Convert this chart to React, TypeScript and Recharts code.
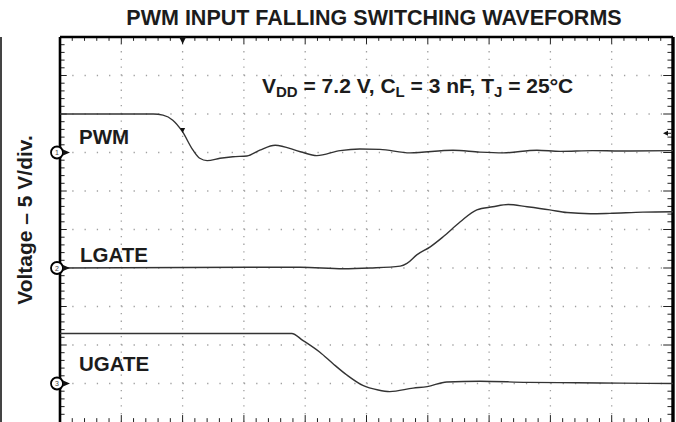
import { Line, LineChart, ReferenceDot, ReferenceLine, XAxis, YAxis } from 'recharts';

// scope screen: 10 time divisions across, 10 voltage divisions up (5 V/div)
const DIVS = [0, 1, 2, 3, 4, 5, 6, 7, 8, 9, 10];
const MINOR_STEP = 0.2;

// [time div, screen div]
const PWM_TRACE = [
  [0, 8.0], [1.52, 8.0], [1.68, 7.97], [1.84, 7.84], [1.99, 7.56], [2.17, 7.06], [2.28, 6.85],
  [2.4, 6.79], [2.61, 6.85], [2.82, 6.89], [3.05, 6.91], [3.26, 7.06], [3.51, 7.19], [3.92, 7.02],
  [4.19, 6.92], [4.57, 7.05], [4.89, 7.09], [5.22, 7.08], [5.71, 6.99], [6.41, 7.06], [6.85, 7.01],
  [7.23, 6.99], [7.78, 7.06], [8.16, 7.03], [8.69, 7.05], [9.14, 7.04], [10, 7.05],
];
const LGATE_TRACE = [
  [0, 4.0], [3.92, 4.02], [4.62, 3.98], [5.06, 4.0], [5.55, 4.05], [5.66, 4.12], [5.82, 4.34],
  [6.04, 4.55], [6.25, 4.81], [6.53, 5.2], [6.8, 5.51], [7.06, 5.59], [7.31, 5.65], [7.62, 5.59],
  [7.99, 5.51], [8.27, 5.44], [8.65, 5.41], [8.97, 5.42], [9.51, 5.45], [10, 5.46],
];
const UGATE_TRACE = [
  [0, 2.3], [3.78, 2.3], [3.96, 2.12], [4.24, 1.81], [4.45, 1.52], [4.68, 1.22], [4.94, 0.95],
  [5.19, 0.83], [5.38, 0.79], [5.76, 0.88], [5.99, 0.92], [6.31, 1.04], [6.85, 1.06], [7.62, 1.03],
  [8.43, 1.02], [9.14, 1.01], [10, 1.0],
];

const CHANNEL_IDS = ['1', '2', '3'];
const CHANNEL_GROUNDS = [7, 4, 1];
const TRIGGER_TIME = 2.0;
const TRIGGER_LEVEL = 7.5;

const TITLE = 'PWM INPUT FALLING SWITCHING WAVEFORMS';
const Y_LABEL = 'Voltage – 5 V/div.';

const toRows = (pts: number[][]) => pts.map(([t, v]) => ({ t, v }));
const minor = Array.from({ length: 49 }, (_, i) => +((i + 1) * MINOR_STEP).toFixed(2));
const isMajor = (v: number) => Math.abs(v - Math.round(v)) < 1e-6;

const FONT = '"Liberation Sans", Arial, sans-serif';
const INK = '#1c1c1c';
const TRACE = '#333';

const ChannelMarker = (props: any) => {
  const { cx, cy, label } = props;
  return (
    <g>
      <circle cx={cx - 3} cy={cy} r={6} fill="#fff" stroke="#000" strokeWidth={1.8} />
      <text x={cx - 3} y={cy + 2.5} fontSize={7} textAnchor="middle" fill="#444" fontFamily={FONT}>
        {label}
      </text>
      <path d={`M${cx + 3},${cy - 3} L${cx + 10},${cy} L${cx + 3},${cy + 3} Z`} fill="#111" />
    </g>
  );
};

export default function App() {
  return (
    <div style={{ position: 'absolute', left: 0, top: 0, width: 676, height: 422, overflow: 'hidden', background: '#fff' }}>
      <LineChart width={676} height={422} margin={{ top: 37, right: 3, bottom: 0, left: 60 }}>
        <XAxis dataKey="t" type="number" domain={[0, 10]} hide />
        <YAxis type="number" domain={[0, 10]} hide />

        {DIVS.slice(1, -1).map((d) => (
          <ReferenceLine key={`gx${d}`} x={d} stroke="#a0a0a0" strokeWidth={1.3} strokeDasharray="1.3 6.4" />
        ))}
        {DIVS.slice(1, -1).map((d) => (
          <ReferenceLine key={`gy${d}`} y={d} stroke="#a0a0a0" strokeWidth={1.3} strokeDasharray="1.3 10.96" />
        ))}

        {minor.map((m) => {
          const len = isMajor(m) ? 0.18 : 0.1;
          return (
            <ReferenceLine key={`tt${m}`} segment={[{ x: m, y: 10 }, { x: m, y: 10 - len }]} stroke="#222" strokeWidth={1} />
          );
        })}
        {minor.map((m) => {
          const len = isMajor(m) ? 0.18 : 0.1;
          return (
            <ReferenceLine key={`tb${m}`} segment={[{ x: m, y: 0 }, { x: m, y: len }]} stroke="#222" strokeWidth={1} />
          );
        })}
        {minor.map((m) => {
          const len = isMajor(m) ? 0.11 : 0.075;
          return (
            <ReferenceLine key={`tl${m}`} segment={[{ x: 0, y: m }, { x: len, y: m }]} stroke="#222" strokeWidth={1} />
          );
        })}
        {minor.map((m) => {
          const len = isMajor(m) ? 0.16 : 0.09;
          return (
            <ReferenceLine key={`tr${m}`} segment={[{ x: 10, y: m }, { x: 10 - len, y: m }]} stroke="#222" strokeWidth={1} />
          );
        })}

        <ReferenceLine x={0} stroke="#000" strokeWidth={2.6} />
        <ReferenceLine x={10} stroke="#000" strokeWidth={3.4} />
        <ReferenceLine y={10} stroke="#000" strokeWidth={2.6} />

        <Line data={toRows(PWM_TRACE)} dataKey="v" type="monotone" stroke={TRACE} strokeWidth={1.4} dot={false} isAnimationActive={false} />
        <Line data={toRows(LGATE_TRACE)} dataKey="v" type="monotone" stroke={TRACE} strokeWidth={1.4} dot={false} isAnimationActive={false} />
        <Line data={toRows(UGATE_TRACE)} dataKey="v" type="monotone" stroke={TRACE} strokeWidth={1.4} dot={false} isAnimationActive={false} />

        {CHANNEL_GROUNDS.map((g, i) => (
          <ReferenceDot
            key={`ch${i}`}
            x={0}
            y={g}
            ifOverflow="visible"
            shape={(p: any) => <ChannelMarker {...p} label={CHANNEL_IDS[i]} />}
          />
        ))}
        <ReferenceDot
          x={TRIGGER_TIME}
          y={10}
          ifOverflow="visible"
          shape={(p: any) => <path d={`M${p.cx - 3.5},${p.cy} L${p.cx + 3.5},${p.cy} L${p.cx},${p.cy + 7} Z`} fill="#111" />}
        />
        <ReferenceDot
          x={TRIGGER_TIME}
          y={7.56}
          ifOverflow="visible"
          shape={(p: any) => <path d={`M${p.cx - 2.5},${p.cy - 3} L${p.cx + 2.5},${p.cy - 3} L${p.cx},${p.cy + 2} Z`} fill="#111" />}
        />
        <ReferenceDot
          x={10}
          y={TRIGGER_LEVEL}
          ifOverflow="visible"
          shape={(p: any) => (
            <g>
              <path d={`M${p.cx - 10},${p.cy} L${p.cx - 5},${p.cy - 2.5} L${p.cx - 5},${p.cy + 2.5} Z`} fill="#111" />
              <line x1={p.cx - 5} y1={p.cy} x2={p.cx - 2} y2={p.cy} stroke="#111" strokeWidth={1} />
            </g>
          )}
        />
      </LineChart>

      <svg width={676} height={422} style={{ position: 'absolute', left: 0, top: 0, pointerEvents: 'none' }}>
        <line x1={1} y1={37} x2={1} y2={422} stroke="#444" strokeWidth={2} />
        <g fontFamily={FONT} fontWeight="bold" fill={INK}>
          <text x={374} y={25} fontSize={21.5} textAnchor="middle">{TITLE}</text>
          <text transform="translate(32,220) rotate(-90)" fontSize={21} textAnchor="middle">{Y_LABEL}</text>
          <text x={79} y={144} fontSize={20.5}>PWM</text>
          <text x={80} y={262} fontSize={20.5}>LGATE</text>
          <text x={79} y={371} fontSize={20.5}>UGATE</text>
          <text x={262} y={92.5} fontSize={21}>
            V<tspan fontSize={15} dy={4}>DD</tspan>
            <tspan dy={-4}> = 7.2 V, C</tspan>
            <tspan fontSize={15} dy={4}>L</tspan>
            <tspan dy={-4}> = 3 nF, T</tspan>
            <tspan fontSize={15} dy={4}>J</tspan>
            <tspan dy={-4}> = 25°C</tspan>
          </text>
        </g>
      </svg>
    </div>
  );
}
